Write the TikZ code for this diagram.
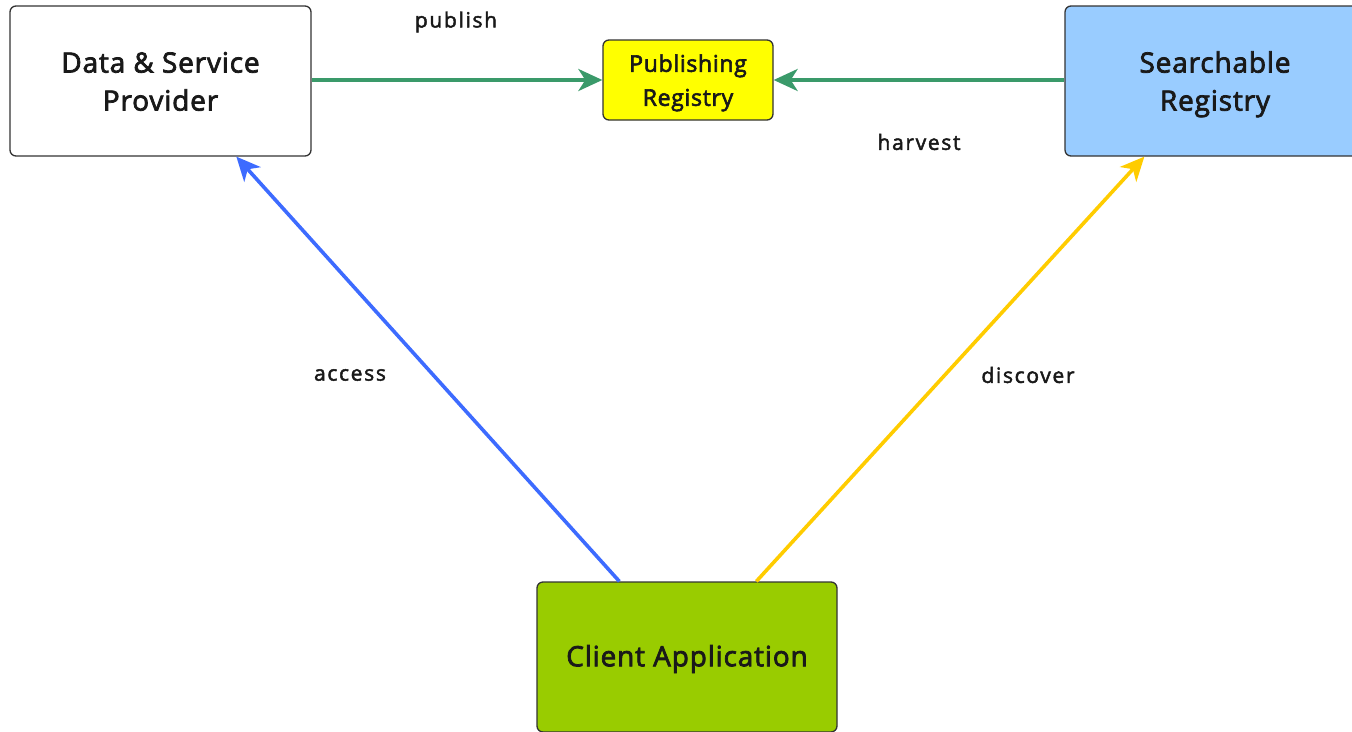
\documentclass[tikz,border=0pt]{standalone}
\usepackage{fontspec}
\setmainfont{Open Sans}
\newfontfamily\boxfont{Open Sans}[LetterSpace=3, FakeBold=2.6]
\newfontfamily\lblfont{Open Sans}[LetterSpace=8, FakeBold=2.2]
\usetikzlibrary{arrows.meta,calc}
\definecolor{edgegray}{HTML}{333333}
\definecolor{pubgreen}{HTML}{3A9A6A}
\definecolor{accblue}{HTML}{3D6BFF}
\definecolor{discyellow}{HTML}{FFCC00}
\definecolor{regyellow}{HTML}{FFFF00}
\definecolor{reglblue}{HTML}{99CCFF}
\definecolor{cligreen}{HTML}{99CC00}
\newcommand{\boxlines}[2]{\raisebox{-#1}[\height][\depth]{\begin{tabular}{@{}c@{}}#2\end{tabular}}}
\begin{document}
\begin{tikzpicture}[x=1pt,y=-1pt,
  box/.style={draw=edgegray, line width=1.3pt, rounded corners=6pt, inner sep=0pt, text=black!90},
  bigtext/.style={font=\boxfont\fontsize{28}{38}\selectfont},
  conn/.style={line width=3.6pt, -{Stealth[length=24pt,width=22pt,inset=7pt]}},
  lbl/.style={font=\lblfont\fontsize{21}{24}\selectfont, text=black!90, inner sep=0pt}]
\useasboundingbox (0,0) rectangle (1352,731);
\node[box, bigtext, fill=white, minimum width=301pt, minimum height=150pt] (dsp) at (160.5,81) {\boxlines{3pt}{Data \& Service\\Provider}};
\node[box, fill=regyellow, minimum width=170pt, minimum height=80pt, font=\boxfont\fontsize{23}{34}\selectfont] (pr) at (688,80) {\boxlines{2pt}{Publishing\\Registry}};
\node[box, bigtext, fill=reglblue, minimum width=300pt, minimum height=150pt] (sr) at (1215,81) {\boxlines{3pt}{Searchable\\Registry}};
\node[box, bigtext, fill=cligreen, minimum width=300pt, minimum height=150pt] (ca) at (687,657) {\raisebox{-2pt}[\height][\depth]{Client Application}};
\draw[conn, pubgreen] (dsp.east |- pr.west) -- (pr.west);
\draw[conn, pubgreen] (sr.west |- pr.east) -- (pr.east);
\draw[conn, accblue] ($(ca.north west)+(83,0)$) -- ($(dsp.south west)+(227,0)$);
\draw[conn, discyellow] ($(ca.north west)+(220,0)$) -- ($(sr.south west)+(80,0)$);
\node[lbl] (lpub) at (456,22) {publish};
\node[lbl] (lharv) at (919,142) {harvest};
\node[lbl] (lacc) at (350,375) {access};
\node[lbl] (ldisc) at (1028,375) {discover};
\end{tikzpicture}
\end{document}
